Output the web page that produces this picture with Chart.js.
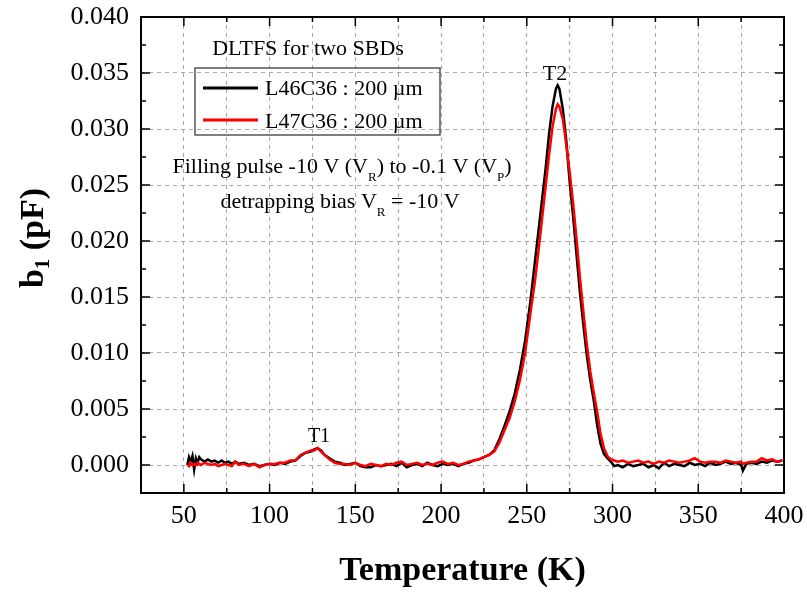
<!DOCTYPE html>
<html>
<head>
<meta charset="utf-8">
<script src="https://cdn.jsdelivr.net/npm/chart.js@4"></script>
<style>
  html, body { margin: 0; padding: 0; background: #fff; }
</style>
</head>
<body>
<canvas id="dltfs-chart" width="807" height="592"></canvas>
<script>
// Temperature points (K), shared by both diodes
const temperature = [
  52, 53, 54, 55, 56, 57, 58, 59, 60, 62, 64, 66, 68, 70, 72, 74, 76, 78, 80, 82,
  85, 88, 91, 94, 97, 100, 103, 106, 109, 112, 115, 118, 121, 124, 126, 128, 130, 132, 135, 138,
  141, 144, 147, 150, 153, 156, 159, 162, 165, 168, 171, 174, 177, 180, 183, 186, 189, 192, 195, 198,
  201, 204, 207, 210, 213, 216, 219, 222, 225, 228, 231, 234, 237, 240, 243, 246, 249, 252, 255, 258,
  261, 263, 265, 267, 268, 269, 271, 273, 275, 277, 279, 281, 283, 285, 287, 289, 291, 293, 295, 297,
  299, 301, 303, 306, 309, 312, 315, 318, 321, 324, 327, 330, 333, 336, 339, 342, 345, 348, 351, 354,
  357, 360, 363, 366, 369, 372, 375, 376, 378, 381, 384, 387, 390, 393, 396, 399
];

// b1 (pF) for L46C36 (black)
const l46c36 = [
  0.0000, 0.0007, 0.0003, 0.0008, -0.0004, 0.0006, 0.0002, 0.0007, 0.0005, 0.0003,
  0.0005, 0.0003, 0.0004, 0.0002, 0.0004, 0.0002, 0.0003, 0.0001, 0.0003, 0.0001,
  0.0002, 0.0000, 0.0001, -0.0001, 0.0000, 0.0001, 0.0000, 0.0002, 0.0001, 0.0003,
  0.0004, 0.0008, 0.0011, 0.0012, 0.0014, 0.0015, 0.0013, 0.0009, 0.0006, 0.0003,
  0.0002, 0.0000, 0.0001, 0.0002, -0.0001, -0.0002, -0.0002, 0.0000, -0.0001, 0.0000,
  0.0001, -0.0001, 0.0002, -0.0002, 0.0000, 0.0001, -0.0001, 0.0002, 0.0000, -0.0001,
  0.0001, 0.0000, 0.0001, -0.0001, 0.0001, 0.0002, 0.0004, 0.0005, 0.0007, 0.0009,
  0.0013, 0.0023, 0.0035, 0.0048, 0.0064, 0.0085, 0.0111, 0.0145, 0.0185, 0.0225,
  0.0265, 0.0296, 0.0320, 0.0336, 0.0339, 0.0336, 0.0318, 0.0290, 0.0253, 0.0222,
  0.0188, 0.0154, 0.0125, 0.0098, 0.0076, 0.0058, 0.0036, 0.0019, 0.0010, 0.0006,
  0.0003, -0.0001, 0.0000, -0.0002, 0.0001, -0.0001, 0.0000, 0.0001, -0.0002, 0.0000,
  -0.0003, 0.0002, -0.0001, 0.0001, 0.0000, -0.0001, 0.0002, 0.0000, 0.0001, -0.0001,
  0.0002, 0.0000, 0.0001, 0.0003, 0.0001, 0.0002, 0.0000, -0.0005, 0.0001, 0.0002,
  0.0001, 0.0003, 0.0002, 0.0004, 0.0003, 0.0004
];

// b1 (pF) for L47C36 (red)
const l47c36 = [
  0.0000, -0.0001, 0.0002, 0.0000, 0.0001, 0.0000, 0.0002, 0.0001, 0.0000, 0.0002,
  0.0001, 0.0000, 0.0001, -0.0001, 0.0000, 0.0001, 0.0000, -0.0001, 0.0003, 0.0000,
  0.0001, -0.0001, 0.0001, -0.0002, 0.0000, 0.0001, 0.0001, 0.0002, 0.0002, 0.0004,
  0.0004, 0.0009, 0.0011, 0.0013, 0.0013, 0.0015, 0.0012, 0.0009, 0.0005, 0.0002,
  0.0001, 0.0001, 0.0000, 0.0002, 0.0000, -0.0001, 0.0001, 0.0000, -0.0001, 0.0001,
  0.0000, 0.0002, 0.0003, 0.0000, 0.0001, 0.0002, 0.0000, 0.0001, 0.0000, 0.0002,
  0.0003, 0.0001, 0.0002, 0.0000, 0.0001, 0.0003, 0.0004, 0.0005, 0.0007, 0.0009,
  0.0012, 0.0020, 0.0031, 0.0042, 0.0057, 0.0076, 0.0100, 0.0134, 0.0167, 0.0207,
  0.0249, 0.0277, 0.0302, 0.0318, 0.0322, 0.0320, 0.0309, 0.0286, 0.0262, 0.0234,
  0.0202, 0.0167, 0.0137, 0.0108, 0.0084, 0.0065, 0.0048, 0.0028, 0.0015, 0.0008,
  0.0005, 0.0004, 0.0003, 0.0004, 0.0002, 0.0003, 0.0004, 0.0002, 0.0003, 0.0001,
  0.0003, 0.0002, 0.0004, 0.0003, 0.0002, 0.0003, 0.0004, 0.0006, 0.0003, 0.0002,
  0.0003, 0.0003, 0.0002, 0.0004, 0.0003, 0.0002, 0.0003, 0.0001, 0.0002, 0.0003,
  0.0003, 0.0006, 0.0004, 0.0005, 0.0003, 0.0004
];

// Tick labels
const xTickLabels = [50, 100, 150, 200, 250, 300, 350, 400];
const yTickLabels = ['0.000', '0.005', '0.010', '0.015', '0.020', '0.025', '0.030', '0.035', '0.040'];

const SERIF = "'Liberation Serif', 'Times New Roman', serif";

function toPoints(xs, ys) {
    return xs.map((x, i) => ({ x: x, y: ys[i] }));
}

function isYMajor(v) {
    return yTickLabels.some(l => Math.abs(parseFloat(l) - v) < 1e-9);
}

// Draw a line of text made of normal and subscript pieces
function drawRich(ctx, parts, x, y, size, align) {
    const subSize = Math.round(size * 0.6);
    let total = 0;
    parts.forEach(p => {
        ctx.font = (p.sub ? subSize : size) + 'px ' + SERIF;
        p.w = ctx.measureText(p.t).width;
        total += p.w;
    });
    let cx = align === 'center' ? x - total / 2 : x;
    ctx.textAlign = 'left';
    ctx.textBaseline = 'alphabetic';
    parts.forEach(p => {
        ctx.font = (p.sub ? subSize : size) + 'px ' + SERIF;
        ctx.fillText(p.t, cx, p.sub ? y + size * 0.37 : y);
        cx += p.w;
    });
}

// Frame, inward ticks, titles and annotations
const decorPlugin = {
    id: 'decor',
    afterDraw(chart) {
        const ctx = chart.ctx;
        const area = chart.chartArea;
        const xs = chart.scales.x;
        const ys = chart.scales.y;
        ctx.save();
        ctx.strokeStyle = '#000';
        ctx.lineWidth = 2;
        ctx.strokeRect(area.left, area.top, area.right - area.left, area.bottom - area.top);

        ctx.lineWidth = 1.5;
        ctx.beginPath();
        for (let t = 25; t <= 400; t += 25) {
            const px = xs.getPixelForValue(t);
            const len = t % 50 === 0 ? 9 : 5;
            ctx.moveTo(px, area.bottom); ctx.lineTo(px, area.bottom - len);
            ctx.moveTo(px, area.top); ctx.lineTo(px, area.top + len);
        }
        for (let i = -1; i <= 16; i++) {
            const v = i * 0.0025;
            const py = ys.getPixelForValue(v);
            const len = i % 2 === 0 ? 9 : 5;
            ctx.moveTo(area.left, py); ctx.lineTo(area.left + len, py);
            ctx.moveTo(area.right, py); ctx.lineTo(area.right - len, py);
        }
        ctx.stroke();

        ctx.fillStyle = '#000';
        // Axis titles
        ctx.font = 'bold 34px ' + SERIF;
        ctx.textAlign = 'center';
        ctx.textBaseline = 'alphabetic';
        ctx.fillText('Temperature (K)', (area.left + area.right) / 2, 580);

        ctx.save();
        ctx.translate(43, 238);
        ctx.rotate(-Math.PI / 2);
        const yParts = [{ t: 'b', s: 34 }, { t: '1', s: 21, sub: true }, { t: ' (pF)', s: 34 }];
        let tw = 0;
        yParts.forEach(p => { ctx.font = 'bold ' + p.s + 'px ' + SERIF; p.w = ctx.measureText(p.t).width; tw += p.w; });
        let cx = -tw / 2;
        ctx.textAlign = 'left';
        yParts.forEach(p => {
            ctx.font = 'bold ' + p.s + 'px ' + SERIF;
            ctx.fillText(p.t, cx, p.sub ? 6 : 0);
            cx += p.w;
        });
        ctx.restore();

        // Annotations
        ctx.font = '22px ' + SERIF;
        ctx.textAlign = 'center';
        ctx.fillText('DLTFS for two SBDs', 308, 55);

        // Legend box
        ctx.strokeStyle = '#555';
        ctx.lineWidth = 1.5;
        ctx.strokeRect(195, 68, 245, 67);
        ctx.lineWidth = 3;
        ctx.strokeStyle = '#000';
        ctx.beginPath(); ctx.moveTo(203, 88); ctx.lineTo(258, 88); ctx.stroke();
        ctx.strokeStyle = '#ff0000';
        ctx.beginPath(); ctx.moveTo(203, 120); ctx.lineTo(258, 120); ctx.stroke();
        ctx.textAlign = 'left';
        ctx.fillText(chart.data.datasets[1].label, 265, 95);
        ctx.fillText(chart.data.datasets[0].label, 265, 128);

        drawRich(ctx, [
            { t: 'Filling pulse -10 V (V' }, { t: 'R', sub: true },
            { t: ') to -0.1 V (V' }, { t: 'P', sub: true }, { t: ')' }
        ], 342, 173, 22, 'center');
        drawRich(ctx, [
            { t: 'detrapping bias V' }, { t: 'R', sub: true }, { t: ' = -10 V' }
        ], 340, 208, 22, 'center');

        ctx.textAlign = 'center';
        ctx.font = '20px ' + SERIF;
        ctx.fillText('T1', 319, 442);
        ctx.font = '22px ' + SERIF;
        ctx.fillText('T2', 555, 80);
        ctx.restore();
    }
};

const canvas = document.getElementById('dltfs-chart');

new Chart(canvas, {
    type: 'line',
    data: {
        datasets: [
            {
                label: 'L47C36 : 200 \u00b5m',
                data: toPoints(temperature, l47c36),
                borderColor: '#ff0000',
                borderWidth: 2.5,
                pointRadius: 0,
                tension: 0,
                order: 0
            },
            {
                label: 'L46C36 : 200 \u00b5m',
                data: toPoints(temperature, l46c36),
                borderColor: '#000000',
                borderWidth: 2.5,
                pointRadius: 0,
                tension: 0,
                order: 1
            }
        ]
    },
    options: {
        responsive: false,
        animation: false,
        layout: { padding: { left: 0, right: 23, top: 17, bottom: 0 } },
        plugins: {
            legend: { display: false },
            tooltip: { enabled: false }
        },
        scales: {
            x: {
                type: 'linear',
                min: 25,
                max: 400,
                ticks: {
                    stepSize: 25,
                    autoSkip: false,
                    maxRotation: 0,
                    padding: 8,
                    color: '#000',
                    font: { family: SERIF, size: 26 },
                    callback: v => xTickLabels.includes(v) ? String(v) : ''
                },
                grid: { color: '#a8a8a8', lineWidth: 1, drawTicks: false },
                border: { display: false, dash: [4, 4] },
                afterFit: s => { s.height = 99; s.paddingRight = 0; s.paddingLeft = 0; }
            },
            y: {
                type: 'linear',
                min: -0.0025,
                max: 0.04,
                ticks: {
                    stepSize: 0.0025,
                    autoSkip: false,
                    padding: 12,
                    color: '#000',
                    font: { family: SERIF, size: 26 },
                    callback: v => {
                        const l = yTickLabels.find(l => Math.abs(parseFloat(l) - v) < 1e-9);
                        return l || '';
                    }
                },
                grid: {
                    color: c => (c.tick && isYMajor(c.tick.value)) ? '#a8a8a8' : 'rgba(0,0,0,0)',
                    lineWidth: 1,
                    drawTicks: false
                },
                border: { display: false, dash: [4, 4] },
                afterFit: s => { s.width = 141; s.paddingTop = 0; s.paddingBottom = 0; }
            }
        }
    },
    plugins: [decorPlugin]
});
</script>
</body>
</html>
